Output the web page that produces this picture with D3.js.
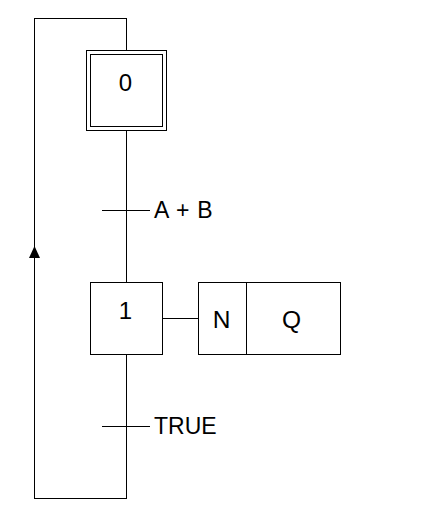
<!DOCTYPE html>
<html>
<head>
<meta charset="utf-8">
<script src="https://cdn.jsdelivr.net/npm/d3@7"></script>
<style>
  html, body { margin: 0; padding: 0; background: #fff; }
  svg { display: block; }
  .wire { fill: none; stroke: #000; stroke-width: 1; shape-rendering: crispEdges; }
  text { font-family: "Liberation Sans", Arial, sans-serif; fill: #000; }
</style>
</head>
<body>
<script>

// Chart content.
var steps = ['0', '1'];
var initialSteps = ['0'];
var transitions = ['A + B', 'TRUE'];
var actionQualifiers = ['N'];
var actionNames = ['Q'];

// Canvas.
var width = 421, height = 522;
var svg = d3.select('body').append('svg')
  .attr('width', width)
  .attr('height', height);

// Scales: steps and transitions along the main vertical line.
var stepY = d3.scalePoint().domain(steps).range([90.5, 318.5]);
var transY = d3.scalePoint().domain(transitions).range([210.5, 426.5]);
var mainX = 126.5, returnX = 34.5;
var topY = 18.5, bottomY = 498.5;
var half = 36;

// Action cells, from the step's right edge.
var actionX = d3.scaleOrdinal()
  .domain(['link', 'qualifier', 'name', 'end'])
  .range([mainX + half, 198.5, 246.5, 340.5]);

// Main line and return loop.
var loop = d3.path();
loop.moveTo(mainX, stepY('0') - half - 4);
loop.lineTo(mainX, topY);
loop.lineTo(returnX, topY);
loop.lineTo(returnX, bottomY);
loop.lineTo(mainX, bottomY);
loop.lineTo(mainX, stepY(steps[steps.length - 1]) + half);
svg.append('path').attr('class', 'wire').attr('d', loop.toString());

// Links between steps.
steps.slice(1).forEach(function(s, i) {
  var prev = steps[i];
  var gap = initialSteps.indexOf(prev) >= 0 ? 4 : 0;
  svg.append('line').attr('class', 'wire')
    .attr('x1', mainX).attr('x2', mainX)
    .attr('y1', stepY(prev) + half + gap)
    .attr('y2', stepY(s) - half);
});

// Return arrow.
var ay = 246;
svg.append('path')
  .attr('d', d3.line()([[returnX, ay], [returnX - 5.5, ay + 12], [returnX + 5.5, ay + 12]]) + 'Z')
  .attr('fill', '#000');

// Step boxes.
var stepG = svg.selectAll('g.step').data(steps).enter().append('g')
  .attr('class', 'step');

stepG.append('rect').attr('class', 'wire')
  .attr('x', mainX - half).attr('y', function(d) { return stepY(d) - half; })
  .attr('width', half * 2).attr('height', half * 2)
  .attr('fill', '#fff');

stepG.filter(function(d) { return initialSteps.indexOf(d) >= 0; })
  .append('rect').attr('class', 'wire')
  .attr('x', mainX - half - 4).attr('y', function(d) { return stepY(d) - half - 4; })
  .attr('width', half * 2 + 8).attr('height', half * 2 + 8);

stepG.append('text')
  .attr('x', mainX - 1).attr('y', function(d) { return stepY(d) + 0.5; })
  .attr('text-anchor', 'middle')
  .attr('font-size', 24)
  .text(function(d) { return d; });

// Transitions.
var transG = svg.selectAll('g.trans').data(transitions).enter().append('g')
  .attr('class', 'trans');

transG.append('line').attr('class', 'wire')
  .attr('x1', mainX - 24.5).attr('x2', mainX + 23.5)
  .attr('y1', function(d) { return transY(d); })
  .attr('y2', function(d) { return transY(d); });

transG.append('text')
  .attr('x', mainX + 27.5).attr('y', function(d) { return transY(d) + 7.5; })
  .attr('font-size', 23)
  .attr('word-spacing', 1.5)
  .text(function(d) { return d; });

// Action block on step 1.
var sy = stepY('1');
svg.append('line').attr('class', 'wire')
  .attr('x1', actionX('link')).attr('x2', actionX('qualifier'))
  .attr('y1', sy).attr('y2', sy);

svg.append('rect').attr('class', 'wire')
  .attr('x', actionX('qualifier')).attr('y', sy - half)
  .attr('width', actionX('end') - actionX('qualifier')).attr('height', half * 2);

svg.append('line').attr('class', 'wire')
  .attr('x1', actionX('name')).attr('x2', actionX('name'))
  .attr('y1', sy - half).attr('y2', sy + half);

svg.append('text')
  .attr('x', (actionX('qualifier') + actionX('name')) / 2 - 1)
  .attr('y', sy + 9).attr('text-anchor', 'middle')
  .attr('font-size', 24.5).attr('fill', '#222')
  .text(actionQualifiers[0]);

svg.append('text')
  .attr('x', (actionX('name') + actionX('end')) / 2 - 2)
  .attr('y', sy + 9).attr('text-anchor', 'middle')
  .attr('font-size', 24.5)
  .text(actionNames[0]);

</script>
</body>
</html>
